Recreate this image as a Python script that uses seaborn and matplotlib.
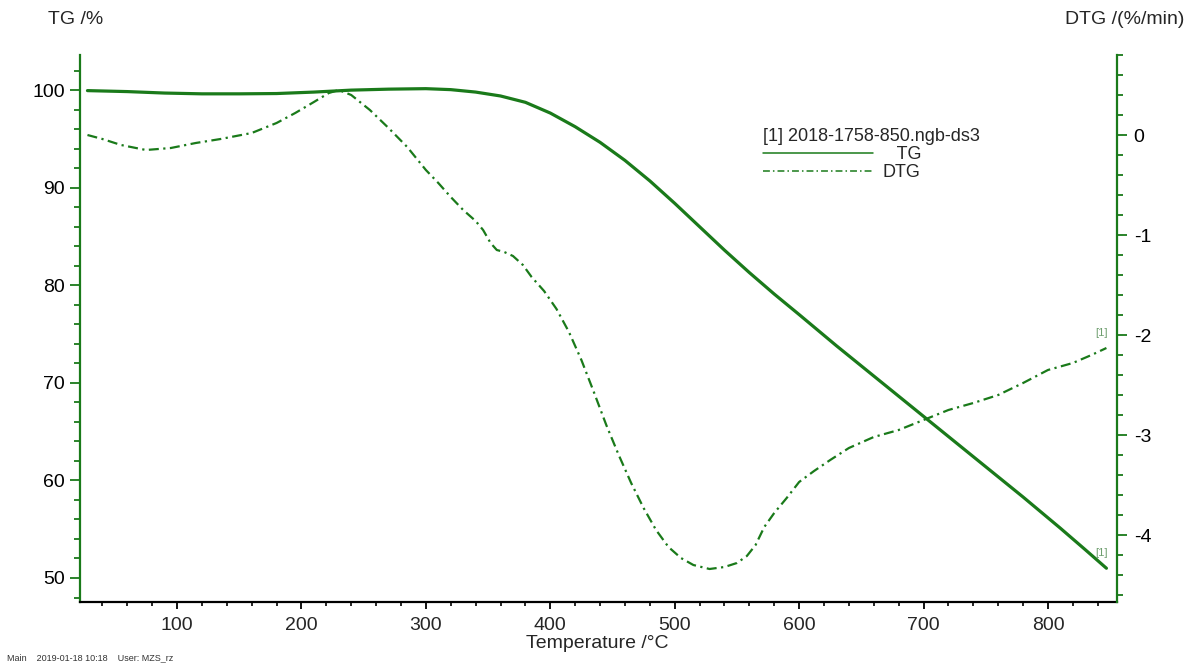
"""
TG / DTG thermogram (NETZSCH style) redrawn with seaborn
"""
import numpy as np
import matplotlib; matplotlib.use('Agg')
import matplotlib.pyplot as plt
from matplotlib.ticker import MultipleLocator
import seaborn as sns

# ── data ──────────────────────────────────────────────────────
tg_temp = [28, 60, 90, 120, 150, 180, 210, 240, 270, 300, 320, 340, 360, 380,
           400, 420, 440, 460, 480, 500, 520, 540, 560, 580, 600, 630, 660,
           690, 720, 750, 780, 810, 830, 847]
tg_mass = [99.95, 99.85, 99.7, 99.62, 99.62, 99.65, 99.8, 100.0, 100.1, 100.15,
           100.05, 99.8, 99.4, 98.75, 97.65, 96.25, 94.65, 92.8, 90.7, 88.4,
           86.0, 83.6, 81.3, 79.1, 77.0, 73.8, 70.7, 67.6, 64.5, 61.4, 58.3,
           55.1, 52.9, 51.0]

dtg_temp = [28, 40, 55, 75, 95, 115, 135, 160, 180, 195, 210, 222, 230, 240,
            255, 270, 285, 300, 310, 320, 330, 340, 346, 352, 357, 363, 370,
            378, 385, 395, 405, 415, 425, 435, 445, 455, 465, 475, 485, 495,
            505, 515, 528, 540, 550, 558, 565, 572, 580, 590, 600, 612, 625,
            640, 660, 680, 700, 720, 740, 760, 780, 800, 820, 835, 847]
dtg_rate = [0.00, -0.04, -0.10, -0.15, -0.13, -0.08, -0.04, 0.02, 0.12, 0.22,
            0.33, 0.42, 0.45, 0.40, 0.25, 0.07, -0.12, -0.35, -0.48, -0.62,
            -0.75, -0.86, -0.95, -1.08, -1.15, -1.17, -1.21, -1.30, -1.42,
            -1.56, -1.74, -1.97, -2.25, -2.57, -2.90, -3.20, -3.48, -3.73,
            -3.95, -4.12, -4.23, -4.30, -4.34, -4.32, -4.28, -4.21, -4.10,
            -3.92, -3.78, -3.63, -3.47, -3.36, -3.25, -3.13, -3.02, -2.95,
            -2.85, -2.75, -2.68, -2.60, -2.48, -2.35, -2.28, -2.20, -2.13]

x_ticks = [100, 200, 300, 400, 500, 600, 700, 800]
tg_ticks = [50, 60, 70, 80, 90, 100]
dtg_ticks = [-4, -3, -2, -1, 0]

GREEN = '#1a7a1a'
TAG = '#6f9f6f'

sns.set_style('white')
plt.rcParams['font.family'] = ['Liberation Sans', 'DejaVu Sans']
plt.rcParams['axes.unicode_minus'] = False

W, H = 1201, 668
fig = plt.figure(figsize=(W / 100, H / 100), dpi=100, facecolor='white')
ax = fig.add_axes([80 / W, 1 - 602 / H, (1117 - 80) / W, (602 - 55) / H])
ax2 = ax.twinx()

# ── curves ───────────────────────────────────────────────────
sns.lineplot(x=tg_temp, y=tg_mass, ax=ax, color=GREEN, lw=2.3, label='TG',
             legend=False)
sns.lineplot(x=dtg_temp, y=dtg_rate, ax=ax2, color=GREEN, lw=1.6, label='DTG',
             legend=False)
ax2.lines[-1].set_dashes([4.5, 2, 1, 2])

ax.annotate('[1]', xy=(tg_temp[-1], tg_mass[-1]), xytext=(-8, 9),
            textcoords='offset points', fontsize=8, color=TAG)
ax2.annotate('[1]', xy=(dtg_temp[-1], dtg_rate[-1]), xytext=(-8, 9),
             textcoords='offset points', fontsize=8, color=TAG)

# ── axes ─────────────────────────────────────────────────────
ax.set_xlim(22, 855.5)
ax.set_ylim(47.54, 103.6)
ax2.set_ylim(-4.67, 0.80)

ax.set_xticks(x_ticks)
ax.xaxis.set_minor_locator(MultipleLocator(20))
ax.set_yticks(tg_ticks)
ax.yaxis.set_minor_locator(MultipleLocator(2))
ax2.set_yticks(dtg_ticks)
ax2.yaxis.set_minor_locator(MultipleLocator(0.2))

for a in (ax, ax2):
    a.spines['top'].set_visible(False)
    a.set_xlabel('')
    a.set_ylabel('')
ax.spines['right'].set_visible(False)
ax2.spines['left'].set_visible(False)
ax2.spines['bottom'].set_visible(False)
ax.spines['left'].set_color(GREEN)
ax.spines['left'].set_linewidth(1.6)
ax2.spines['right'].set_color(GREEN)
ax2.spines['right'].set_linewidth(1.6)
ax.spines['bottom'].set_color('black')
ax.spines['bottom'].set_linewidth(1.6)

ax.tick_params(axis='y', which='major', direction='out', length=7, width=1.3,
               color=GREEN, labelsize=14, labelcolor='black', pad=4, left=True)
ax.tick_params(axis='y', which='minor', direction='out', length=4, width=1.3,
               color=GREEN, left=True)
ax2.tick_params(axis='y', which='major', direction='out', length=7, width=1.3,
                color=GREEN, labelsize=14, labelcolor='black', pad=5, right=True)
ax2.tick_params(axis='y', which='minor', direction='out', length=4, width=1.3,
                color=GREEN, right=True)
ax.tick_params(axis='x', which='major', direction='out', length=5, width=1.3,
               color='black', labelsize=14, pad=6, bottom=True)
ax.tick_params(axis='x', which='minor', direction='out', length=3, width=1.2,
               color='black', bottom=True)

# ── texts ────────────────────────────────────────────────────
fig.text(48 / W, 1 - 19 / H, 'TG /%', fontsize=14, va='center', ha='left')
fig.text(1184 / W, 1 - 19 / H, 'DTG /(%/min)', fontsize=14, va='center',
         ha='right')
fig.text(597 / W, 1 - 643 / H, 'Temperature /°C', fontsize=14, va='center',
         ha='center')
fig.text(7 / W, 1 - 658 / H, 'Main    2019-01-18 10:18    User: MZS_rz',
         fontsize=6.5, va='center', ha='left', color='#333333')

handles = [ax.lines[0], ax2.lines[-1]]
leg = ax.legend(handles, ['   TG', 'DTG'], title='[1] 2018-1758-850.ngb-ds3',
                loc='upper left', bbox_to_anchor=(754 / W, 1 - 119 / H),
                bbox_transform=fig.transFigure, frameon=False, fontsize=13,
                title_fontsize=13, handlelength=6.1, handletextpad=0.5,
                labelspacing=0.05, borderpad=0, alignment='left')
for h in leg.legend_handles:
    h.set_linewidth(1.1)

fig.savefig('out.png', dpi=100, facecolor='white')
